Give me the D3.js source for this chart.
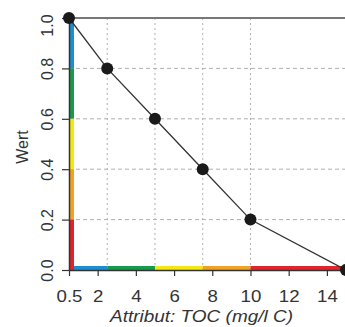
<!DOCTYPE html>
<html><head><meta charset="utf-8">
<script src="https://cdn.jsdelivr.net/npm/d3@7"></script>
<style>body{margin:0;background:#fff}svg{display:block;font-family:"Liberation Sans",Arial,sans-serif}</style>
</head><body><svg id="c" width="345" height="327"></svg>
<script>
const xVals=[0.5,2.5,5,7.5,10,15];
const yVals=[1.0,0.8,0.6,0.4,0.2,0.0];
const xTicks=[0.5,2,4,6,8,10,12,14];
const yTicks=[0.0,0.2,0.4,0.6,0.8,1.0];
const gridX=[2.5,5,7.5,10];
const gridY=[0.2,0.4,0.6,0.8];
const classColors=["#1b8fd2","#179a4a","#f4e812","#f0a224","#e3232c"];
const xBands=[[0.5,2.5],[2.5,5],[5,7.5],[7.5,10],[10,15]];
const yBands=[[0.8,1.0],[0.6,0.8],[0.4,0.6],[0.2,0.4],[0.0,0.2]];

const svg=d3.select("#c");
const x=d3.scaleLinear().domain([0.5,15]).range([69,346]);
const y=d3.scaleLinear().domain([0,1]).range([270,18]);

// grid
svg.append("g").selectAll("line").data(gridX).join("line")
 .attr("x1",d=>x(d)).attr("x2",d=>x(d)).attr("y1",y(1)).attr("y2",y(0))
 .attr("stroke","#b0b0b0").attr("stroke-width",1).attr("stroke-dasharray","2,3");
svg.append("g").selectAll("line").data(gridY).join("line")
 .attr("x1",x(0.5)).attr("x2",x(15)).attr("y1",d=>y(d)).attr("y2",d=>y(d))
 .attr("stroke","#b0b0b0").attr("stroke-width",1).attr("stroke-dasharray","4,3");
// top line
svg.append("line").attr("x1",x(0.5)).attr("x2",x(15)).attr("y1",y(1)).attr("y2",y(1))
 .attr("stroke","#777").attr("stroke-width",2);

// colored bands
svg.append("g").selectAll("rect").data(xBands).join("rect")
 .attr("x",d=>x(d[0])).attr("width",d=>x(d[1])-x(d[0]))
 .attr("y",y(0)-4).attr("height",4).attr("fill",(d,i)=>classColors[i]);
svg.append("g").selectAll("rect").data(yBands).join("rect")
 .attr("x",x(0.5)).attr("width",5)
 .attr("y",d=>y(d[1])).attr("height",d=>y(d[0])-y(d[1])).attr("fill",(d,i)=>classColors[i]);

// axes
const ax=svg.append("g").attr("transform",`translate(0,${y(0)})`)
 .call(d3.axisBottom(x).tickValues(xTicks).tickSize(6).tickSizeOuter(0).tickFormat(d=>d===0.5?"0.5":d3.format("d")(d)));
ax.select(".domain").attr("stroke","#333").attr("stroke-width",1.5);
ax.selectAll(".tick line").attr("stroke","#333").attr("stroke-width",1.2);
ax.selectAll("text").attr("font-size",16.5).attr("fill","#333").attr("y",20).attr("dy","0.71em")
 .attr("transform","scale(1.13,1)");

const ay=svg.append("g").attr("transform",`translate(${x(0.5)},0)`)
 .call(d3.axisLeft(y).tickValues(yTicks).tickSize(7).tickSizeOuter(0).tickFormat(d3.format(".1f")));
ay.select(".domain").attr("stroke","#333").attr("stroke-width",1.5);
ay.selectAll(".tick line").attr("stroke","#333").attr("stroke-width",1.2);
ay.selectAll("text").attr("font-size",16).attr("fill","#333")
 .attr("transform","rotate(-90)").attr("x",d=>d===1?-7:0).attr("y",-16).attr("dy","0").attr("text-anchor","middle");

// line + points
const pts=xVals.map((v,i)=>[v,yVals[i]]);
svg.append("path").datum(pts).attr("fill","none").attr("stroke","#333").attr("stroke-width",1.3)
 .attr("d",d3.line().x(d=>x(d[0])).y(d=>y(d[1])));
svg.append("g").selectAll("circle").data(pts).join("circle")
 .attr("cx",d=>x(d[0])).attr("cy",d=>y(d[1])).attr("r",6).attr("fill","#1a1a1a");

// labels
svg.append("text").attr("transform",`translate(28,147) rotate(-90)`).attr("text-anchor","middle")
 .attr("font-size",16).attr("fill","#333").text("Wert");
svg.append("text").attr("x",110).attr("y",322).attr("font-style","italic")
 .attr("font-size",16.5).attr("fill","#333").attr("textLength",183).attr("lengthAdjust","spacingAndGlyphs")
 .text("Attribut: TOC (mg/l C)");
</script></body></html>
